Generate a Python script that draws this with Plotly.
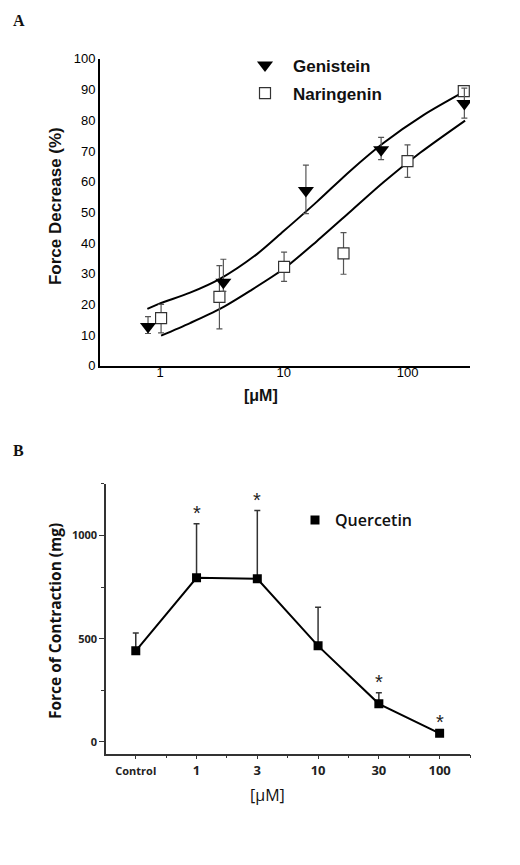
import plotly.graph_objects as go

# --------------------------------------
# DATA  (panel A: force decrease %, panel B: force of contraction mg)
# --------------------------------------

gen_conc = [0.8, 3.25, 15.1, 61.2, 288]
gen_force = [12.8, 27.2, 57.1, 70.4, 85.5]
gen_err_up = [3.2, 7.5, 8.3, 4.0, 5.0]
gen_err_down = [2.3, 3.0, 7.5, 3.2, 4.8]

nar_conc = [1.02, 3.02, 10.06, 30.4, 100, 285]
nar_force = [15.5, 22.4, 32.2, 36.6, 66.7, 89.5]
nar_err_up = [4.5, 10.2, 4.8, 6.8, 5.3, 1.5]
nar_err_down = [4.8, 10.4, 4.7, 6.8, 5.3, 1.5]

# fitted curves
gen_fit_conc = [0.79, 1, 1.75, 3.05, 6.04, 9.93, 18.5, 34.4, 63.9, 134.5, 292]
gen_fit_force = [18.5, 20.3, 23.8, 28.3, 36.3, 43.8, 53.4, 63.5, 72.6, 81.7, 89.5]
nar_fit_conc = [1.02, 1.75, 3.05, 5.34, 9.93, 18.5, 34.4, 63.9, 126.5, 292]
nar_fit_force = [9.8, 13.9, 18.5, 24.4, 31.5, 40.6, 50.2, 59.8, 69.4, 79.9]

a_ticks = [1, 10, 100]
a_yticks = [0, 10, 20, 30, 40, 50, 60, 70, 80, 90, 100]

doses = ["Control", "1", "3", "10", "30", "100"]
quer_force = [441, 795, 790, 465, 184, 41]
quer_err = [86, 262, 331, 187, 54, 0]
signif = ["", "*", "*", "", "*", "*"]

b_yticks = [0, 500, 1000]
b_yminor = [250, 750, 1250]

# --------------------------------------
# LAYOUT HELPERS (page pixels -> paper fractions, page body has 8px margin)
# --------------------------------------

PAD = 8
W, H = 520 - 2 * PAD, 865 - 2 * PAD


def px(x):
    return (x - PAD) / W


def py(y):
    return 1 - (y - PAD) / H


fig = go.Figure()

# panel A fits first so markers sit on top
for fx, fy in [(gen_fit_conc, gen_fit_force), (nar_fit_conc, nar_fit_force)]:
    fig.add_trace(go.Scatter(x=fx, y=fy, mode="lines",
                             line=dict(color="black", width=2, shape="spline", smoothing=0.8),
                             showlegend=False, hoverinfo="skip", xaxis="x", yaxis="y"))

fig.add_trace(go.Scatter(
    x=nar_conc, y=nar_force, mode="markers", name="Naringenin",
    marker=dict(symbol="square", size=11, color="white",
                line=dict(color="#333333", width=1.2)),
    error_y=dict(type="data", array=nar_err_up, arrayminus=nar_err_down,
                 color="#555555", thickness=1.2, width=3),
    xaxis="x", yaxis="y", legend="legend", legendgroup="nar", legendrank=2))
fig.add_trace(go.Scatter(
    x=gen_conc, y=gen_force, mode="markers", name="Genistein",
    marker=dict(symbol="triangle-down", size=14, color="black"),
    error_y=dict(type="data", array=gen_err_up, arrayminus=gen_err_down,
                 color="#555555", thickness=1.2, width=3),
    xaxis="x", yaxis="y", legend="legend", legendgroup="gen", legendrank=1))

# panel B
xpos = list(range(len(doses)))
fig.add_trace(go.Scatter(x=xpos, y=quer_force, mode="lines",
                         line=dict(color="black", width=2),
                         showlegend=False, hoverinfo="skip", xaxis="x2", yaxis="y2"))
fig.add_trace(go.Scatter(
    x=xpos, y=quer_force, mode="markers", name="Quercetin",
    marker=dict(symbol="square", size=9, color="black"),
    error_y=dict(type="data", array=quer_err, arrayminus=[0] * len(doses),
                 color="#333333", thickness=1.5, width=3),
    xaxis="x2", yaxis="y2", legend="legend2"))

for i, s in enumerate(signif):
    if s:
        fig.add_annotation(x=xpos[i], y=quer_force[i] + quer_err[i], xref="x2", yref="y2",
                           text=s, showarrow=False, yanchor="bottom", yshift=-2,
                           font=dict(family="Liberation Sans", size=20, color="#222"))

# panel letters and axis titles
def label(x, y, text, size, family, angle=0):
    fig.add_annotation(x=px(x), y=py(y), xref="paper", yref="paper", text=text,
                       textangle=angle, showarrow=False, xanchor="center", yanchor="middle",
                       font=dict(family=family, size=size, color="#111"))


label(18.5, 13.5, "<b>A</b>", 16, "Liberation Serif")
label(18.5, 451, "<b>B</b>", 16, "Liberation Serif")
label(55.5, 203, "<b>Force Decrease (%)</b>", 17, "Liberation Sans", -90)
label(260.5, 395, "<b>[μM]</b>", 16, "Liberation Sans")
label(54.5, 625.5, "<b>Force of Contraction (mg)</b>", 15.5, "Open Sans", -90)
label(267.5, 802.5, "[μM]", 16, "Open Sans")

fig.update_layout(
    width=W, height=H,
    margin=dict(l=0, r=0, t=0, b=0),
    paper_bgcolor="white", plot_bgcolor="white",
    xaxis=dict(domain=[px(100), px(470)], type="log", range=[-0.485, 2.505],
               tickvals=a_ticks, ticktext=[str(t) for t in a_ticks],
               ticks="", ticklabelstandoff=-6, showgrid=False, zeroline=False,
               showline=True, linecolor="black", linewidth=2,
               tickfont=dict(family="Liberation Sans", size=13, color="black"),
               anchor="y"),
    yaxis=dict(domain=[py(365), py(52.7)], range=[0, 100],
               tickvals=a_yticks, ticks="", showgrid=False, zeroline=False,
               showline=True, linecolor="black", linewidth=2,
               tickfont=dict(family="Liberation Sans", size=13, color="black"),
               anchor="x"),
    xaxis2=dict(domain=[px(106), px(470)], range=[-0.49, 5.5],
                tickvals=xpos,
                ticktext=["<span style='font-size:11px'>Control</span>"] + doses[1:],
                ticks="outside", ticklen=4, tickcolor="#333",
                minor=dict(tickvals=[p + 0.5 for p in xpos], ticks="outside",
                           ticklen=3, tickcolor="#333"),
                showgrid=False, zeroline=False,
                showline=True, linecolor="#333", linewidth=1.5,
                tickfont=dict(family="Open Sans", size=13, color="#222", weight="bold"),
                anchor="y2"),
    yaxis2=dict(domain=[py(760), py(485)], range=[-58, 1252],
                tickvals=b_yticks, ticks="outside", ticklen=5, tickcolor="#333",
                minor=dict(tickvals=b_yminor, ticks="outside", ticklen=3, tickcolor="#333"),
                showgrid=False, zeroline=False,
                showline=True, linecolor="#333", linewidth=1.5,
                tickfont=dict(family="Open Sans", size=11, color="#222", weight="bold"),
                anchor="x2"),
    legend=dict(x=px(237), y=py(41), xanchor="left", yanchor="top",
                bgcolor="rgba(0,0,0,0)", itemwidth=46, tracegroupgap=3,
                font=dict(family="Liberation Sans", size=17, color="#111", weight="bold")),
    legend2=dict(x=px(295), y=py(505), xanchor="left", yanchor="top",
                 bgcolor="rgba(0,0,0,0)",
                 font=dict(family="Open Sans", size=16, color="#111", weight=600)),
)

fig.write_html("out.html")
